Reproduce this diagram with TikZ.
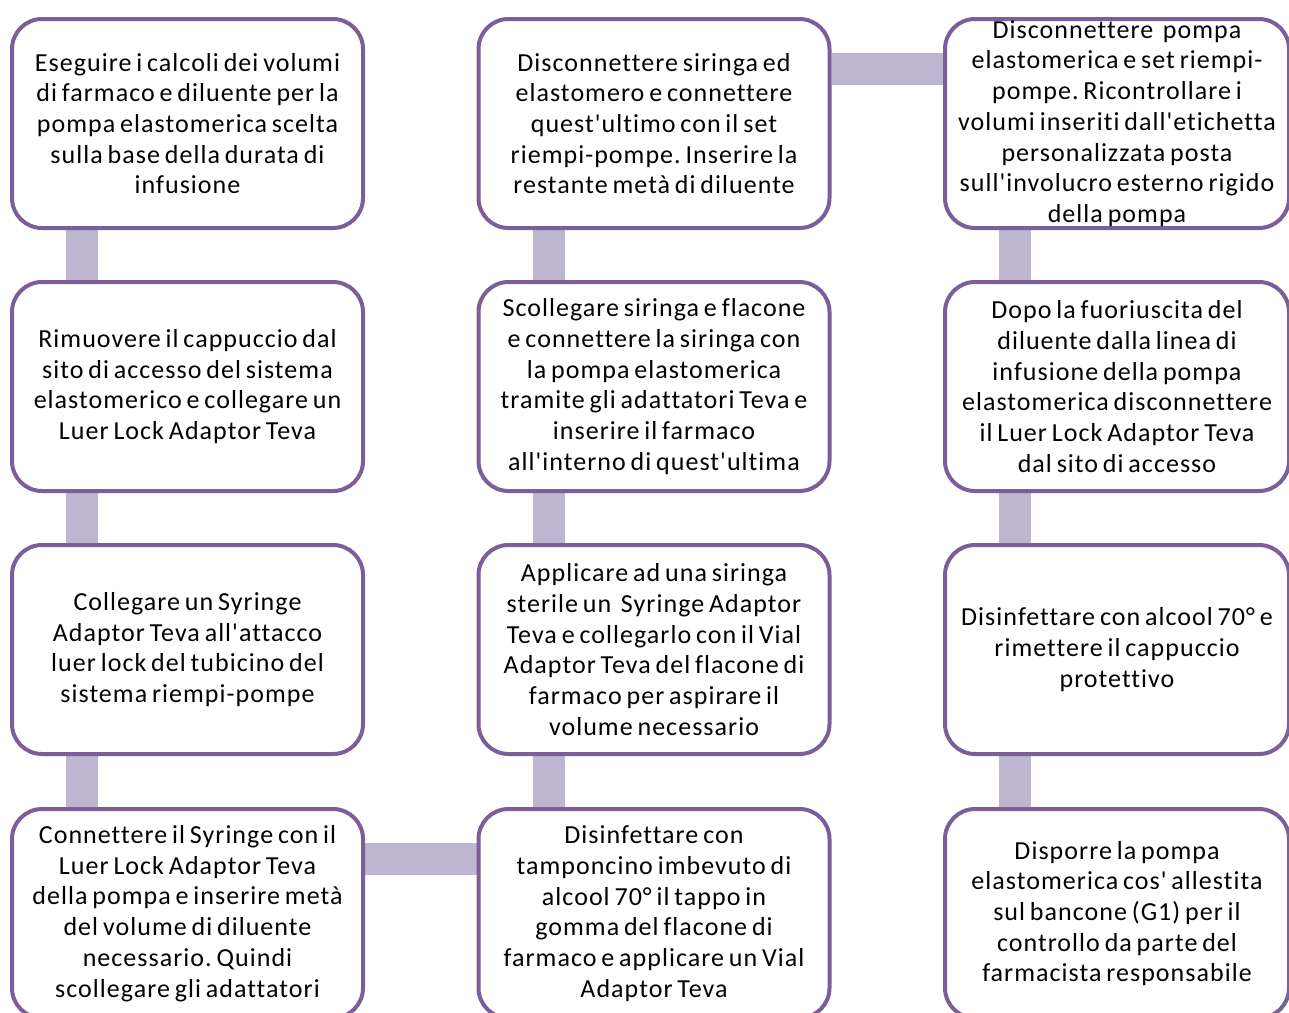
\documentclass[tikz,border=0pt]{standalone}
\usepackage{fontspec}
\setmainfont{Carlito}[Ligatures={TeXOff,CommonOff},LetterSpace=4,WordSpace=0.7]
\usetikzlibrary{backgrounds}
\definecolor{boxline}{RGB}{122,95,155}
\definecolor{barfill}{RGB}{190,181,209}
\frenchspacing

\begin{document}
\begin{tikzpicture}[x=1pt, y=-1pt,
		passo/.style={draw=boxline, line width=4pt, rounded corners=30pt, fill=white,
			minimum width=351pt, minimum height=209pt, inner sep=0pt, align=center,
			font=\fontsize{26}{30.7}\selectfont},
		barra/.style={draw=barfill, line width=32pt}]
	\clip (0,0) rectangle (1289,1012);
	% first column, top to bottom
	\node[passo] (r1c1) at (187.5, 123.5) {Eseguire i calcoli dei volumi\\di farmaco e diluente per la\\pompa elastomerica scelta\\sulla base della durata di\\infusione};
	\node[passo] (r2c1) at (187.5, 386.5) {Rimuovere il cappuccio dal\\sito di accesso del sistema\\elastomerico e collegare un\\Luer Lock Adaptor Teva};
	\node[passo] (r3c1) at (187.5, 649.5) {Collegare un Syringe\\Adaptor Teva all'attacco\\luer lock del tubicino del\\sistema riempi-pompe};
	\node[passo] (r4c1) at (187.5, 913.5) {Connettere il Syringe con il\\Luer Lock Adaptor Teva\\della pompa e inserire metà\\del volume di diluente\\necessario. Quindi\\scollegare gli adattatori};
	% second column, bottom to top
	\node[passo] (r4c2) at (654, 913.5) {Disinfettare con\\tamponcino imbevuto di\\alcool 70° il tappo in\\gomma del flacone di\\farmaco e applicare un Vial\\Adaptor Teva};
	\node[passo] (r3c2) at (654, 649.5) {Applicare ad una siringa\\sterile un~ Syringe Adaptor\\Teva e collegarlo con il Vial\\Adaptor Teva del flacone di\\farmaco per aspirare il\\volume necessario};
	\node[passo] (r2c2) at (654, 386.5) {Scollegare siringa e flacone\\e connettere la siringa con\\la pompa elastomerica\\tramite gli adattatori Teva e\\inserire il farmaco\\all'interno di quest'ultima};
	\node[passo] (r1c2) at (654, 123.5) {Disconnettere siringa ed\\elastomero e connettere\\quest'ultimo con il set\\riempi-pompe. Inserire la\\restante metà di diluente};
	% third column, top to bottom
	\node[passo, minimum width=344pt] (r1c3) at (1117, 123.5) {Disconnettere~ pompa\\elastomerica e set riempi-\\pompe. Ricontrollare i\\volumi inseriti dall'etichetta\\personalizzata posta\\sull'involucro esterno rigido\\della pompa};
	\node[passo, minimum width=344pt] (r2c3) at (1117, 386.5) {Dopo la fuoriuscita del\\diluente dalla linea di\\infusione della pompa\\elastomerica disconnettere\\il Luer Lock Adaptor Teva\\dal sito di accesso};
	\node[passo, minimum width=344pt] (r3c3) at (1117, 649.5) {Disinfettare con alcool 70° e\\rimettere il cappuccio\\protettivo};
	\node[passo, minimum width=344pt] (r4c3) at (1117, 913.5) {Disporre la pompa\\elastomerica cos' allestita\\sul bancone (G1) per il\\controllo da parte del\\farmacista responsabile};
	% connecting bars
	\begin{scope}[on background layer]
		\draw[barra] ([xshift=72pt]r1c1.south west) -- ([xshift=72pt]r2c1.north west);
		\draw[barra] ([xshift=72pt]r2c1.south west) -- ([xshift=72pt]r3c1.north west);
		\draw[barra] ([xshift=72pt]r3c1.south west) -- ([xshift=72pt]r4c1.north west);
		\draw[barra] ([yshift=-51.5pt]r4c1.north east) -- ([yshift=-51.5pt]r4c2.north west);
		\draw[barra] ([xshift=72pt]r4c2.north west) -- ([xshift=72pt]r3c2.south west);
		\draw[barra] ([xshift=72pt]r3c2.north west) -- ([xshift=72pt]r2c2.south west);
		\draw[barra] ([xshift=72pt]r2c2.north west) -- ([xshift=72pt]r1c2.south west);
		\draw[barra] ([yshift=-51.5pt]r1c2.north east) -- ([yshift=-51.5pt]r1c3.north west);
		\draw[barra] ([xshift=72pt]r1c3.south west) -- ([xshift=72pt]r2c3.north west);
		\draw[barra] ([xshift=72pt]r2c3.south west) -- ([xshift=72pt]r3c3.north west);
		\draw[barra] ([xshift=72pt]r3c3.south west) -- ([xshift=72pt]r4c3.north west);
	\end{scope}
\end{tikzpicture}
\end{document}
